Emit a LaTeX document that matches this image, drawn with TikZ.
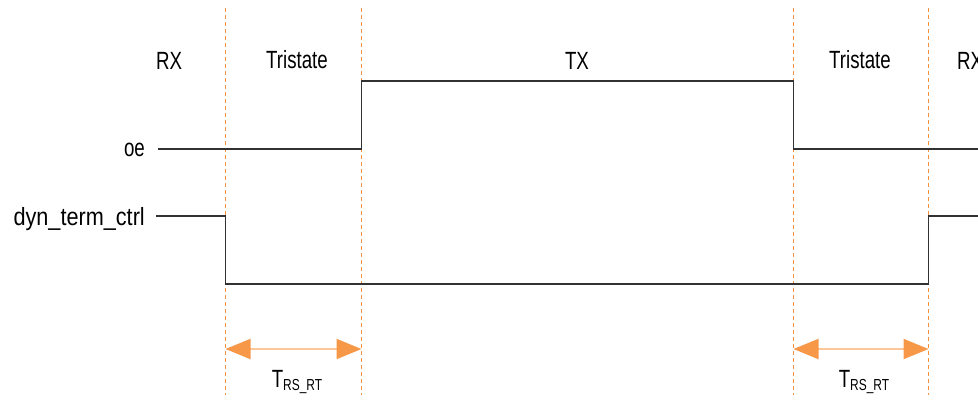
\documentclass[tikz,border=0pt]{standalone}
\usepackage{fontspec}
\setmainfont{Liberation Sans}[FakeStretch=0.75]
\usepackage{xcolor}
\usetikzlibrary{arrows.meta}
\definecolor{sigline}{RGB}{50, 50, 50}
\definecolor{bndorange}{RGB}{245, 145, 60}
\definecolor{tiporange}{RGB}{247, 152, 72}
\definecolor{shaftorange}{RGB}{251, 198, 152}

\begin{document}
\begin{tikzpicture}[x=1bp,y=-1bp,
  lbl/.style={font=\fontsize{25}{30}\selectfont, inner sep=0pt},
  sig/.style={draw=sigline, line width=1.2bp},
  bound/.style={draw=bndorange, line width=1.3bp, dash pattern=on 4bp off 3bp},
  span/.style={draw=shaftorange, line width=2bp,
    {Triangle[length=25bp,width=20bp,color=tiporange]}-{Triangle[length=25bp,width=20bp,color=tiporange]}}]
\useasboundingbox (0,0) rectangle (978,401);
\clip (0,0) rectangle (978,401);

% Phase boundaries
\foreach \n/\x in {1/225.5,2/361.5,3/793.5,4/928.5}{
  \coordinate (top\n) at (\x,8);
  \coordinate (bot\n) at (\x,395);
  \coordinate (mid\n) at (\x,349);
  \draw[bound] (top\n) -- (bot\n);
}

% Phase names
\node[lbl, anchor=base] (rx1) at (169,69) {RX};
\node[lbl, anchor=base] (ts1) at (297,68) {Tristate};
\node[lbl, anchor=base] (tx) at (577,69) {TX};
\node[lbl, anchor=base] (ts2) at (860,68) {Tristate};
\node[lbl, anchor=base] (rx2) at (970,69) {RX};

% Signal names
\node[lbl, anchor=base east] (oe) at (145,156) {oe};
\node[lbl, anchor=base east] (dyn) at (145,225) {\addfontfeature{FakeStretch=0.87}dyn\_term\_ctrl};

% oe
\coordinate (oeL) at (158,149);
\coordinate (oeR) at (978,149);
\draw[sig] (oeL) -- (oeL -| top2) -- ++(0,-68) -| (oeR -| top3) -- (oeR);

% dyn_term_ctrl
\coordinate (dynL) at (156,216);
\coordinate (dynR) at (978,216);
\draw[sig] (dynL) -- (dynL -| top1) -- ++(0,68) -| (dynR -| top4) -- (dynR);

% Switch times
\draw[span] (mid1) -- (mid2);
\draw[span] (mid3) -- (mid4);
\node[lbl, anchor=base] (trs1) at (297,387) {T\raisebox{-4pt}{\fontsize{16}{18}\selectfont RS\_RT}};
\node[lbl, anchor=base] (trs2) at (864,387) {T\raisebox{-4pt}{\fontsize{16}{18}\selectfont RS\_RT}};
\end{tikzpicture}
\end{document}
